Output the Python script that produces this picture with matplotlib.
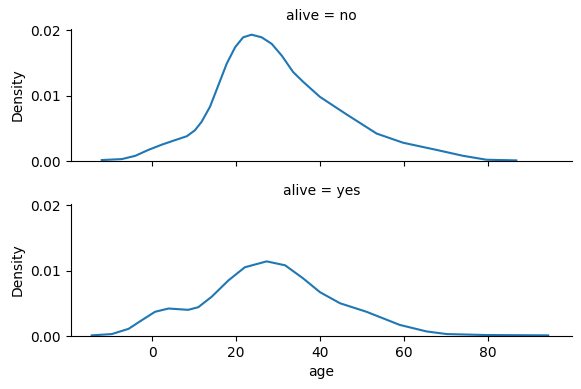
import matplotlib
matplotlib.use("Agg")
import matplotlib.pyplot as plt

# KDE curves (age vs density), one per facet
no_age = [-12.0, -7.2, -4.0, -0.9, 2.3, 5.5, 8.3, 10.2, 11.8, 13.8, 15.8, 17.8,
          19.8, 21.7, 23.7, 26.1, 28.5, 30.9, 33.6, 36.0, 40.0, 46.4, 53.5,
          59.8, 67.8, 74.1, 79.7, 86.8]
no_density = [0.00015, 0.0003, 0.0008, 0.0017, 0.0025, 0.0032, 0.0038, 0.0047,
              0.0060, 0.0083, 0.0116, 0.0149, 0.0174, 0.0189, 0.0193, 0.0189,
              0.0179, 0.0161, 0.0136, 0.0121, 0.0098, 0.0071, 0.0042, 0.0028,
              0.0017, 0.0008, 0.0002, 0.0001]

yes_age = [-14.4, -9.6, -5.6, -2.5, 0.7, 3.9, 8.6, 11.0, 14.2, 18.2, 22.1, 27.3,
           31.7, 36.0, 40.0, 44.8, 51.1, 59.0, 65.4, 70.2, 79.7, 94.4]
yes_density = [0.0001, 0.0003, 0.0011, 0.0024, 0.0037, 0.0042, 0.0040, 0.0044,
               0.0060, 0.0085, 0.0105, 0.0114, 0.0108, 0.0088, 0.0067, 0.0050,
               0.0037, 0.0017, 0.0007, 0.0003, 0.00015, 0.0001]

panels = [("no", no_age, no_density), ("yes", yes_age, yes_density)]

fig = plt.figure(figsize=(5.81, 3.89), dpi=100)
ax_top = fig.add_axes([0.1217, 0.586, 0.8623, 0.340])
ax_bot = fig.add_axes([0.1217, 0.1362, 0.8623, 0.340], sharex=ax_top, sharey=ax_top)

for ax, (label, ages, dens) in zip([ax_top, ax_bot], panels):
    ax.plot(ages, dens, color="#1f77b4", linewidth=1.5)
    ax.set_title(f"alive = {label}", fontsize=10)
    ax.set_ylabel("Density")
    ax.spines["top"].set_visible(False)
    ax.spines["right"].set_visible(False)

ax_top.set_xlim(-19.4, 100)
ax_top.set_ylim(0, 0.0202)
ax_top.set_yticks([0.0, 0.01, 0.02])
ax_top.set_xticks([0, 20, 40, 60, 80])
ax_top.tick_params(labelbottom=False)
ax_bot.set_xlabel("age")

fig.savefig("out.png", dpi=100)
